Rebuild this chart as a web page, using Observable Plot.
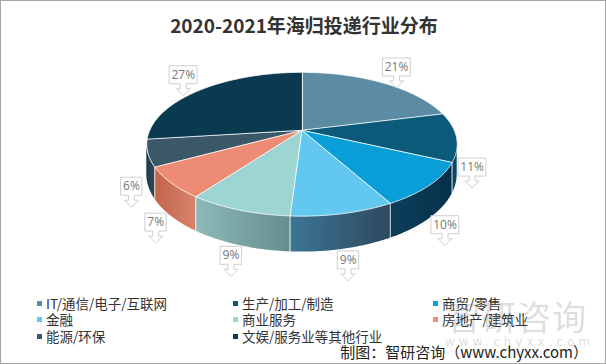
<!DOCTYPE html>
<html>
<head>
<meta charset="utf-8">
<script src="https://cdn.jsdelivr.net/npm/d3@7"></script>
<script src="https://cdn.jsdelivr.net/npm/@observablehq/plot@0.6"></script>
<style>
  html, body { margin: 0; padding: 0; background: #fff; }
  #wrap { position: relative; width: 606px; height: 364px; box-sizing: border-box; border: 1px solid #a6a6a6; overflow: hidden; font-family: "Noto Sans CJK SC", "Noto Sans", sans-serif; }
  #title { position: absolute; left: 0; top: 9px; width: 606px; text-align: center; font-size: 19px; font-weight: bold; color: #333; line-height: 30px; }
  #chart { position: absolute; left: -1px; top: -1px; }
  .leg { position: absolute; font-size: 13.5px; color: #333; line-height: 16px; white-space: nowrap; }
  .leg i { display: inline-block; width: 5px; height: 5px; margin-right: 4px; vertical-align: middle; position: relative; top: -2px; }
  #wm1 { position: absolute; left: 446px; top: 290px; font-size: 34px; color: rgba(150,150,150,0.33); letter-spacing: 1px; }
  #wm2 { position: absolute; left: 444px; top: 334px; font-size: 12px; color: rgba(150,150,150,0.33); letter-spacing: 4px; font-family: "DejaVu Sans", sans-serif; }
  #cap { position: absolute; right: 17px; top: 340px; font-size: 15px; color: #222; }
</style>
</head>
<body>
<div id="wrap">
  <div id="chart"></div>
  <div id="title">2020-2021年海归投递行业分布</div>
  <div id="wm1">智研咨询</div>
  <div id="wm2">www.chyxx.com</div>
  <div id="legend"></div>
  <div id="cap">制图：智研咨询（www.chyxx.com）</div>
</div>
<script>
// ---- data ----
const categories = ["IT/通信/电子/互联网", "生产/加工/制造", "商贸/零售", "金融", "商业服务", "房地产/建筑业", "能源/环保", "文娱/服务业等其他行业"];
const values = [21, 11, 10, 9, 9, 7, 6, 27];
const valueLabels = ["21%", "11%", "10%", "9%", "9%", "7%", "6%", "27%"];

// ---- styles ----
const topColors = ["#5b8ca4", "#0b5a7a", "#0a9ed8", "#62c8f0", "#9dd5d3", "#ee8b74", "#3c5767", "#0a3a50"];
const wallColors = [["#3f6a80", "#3f6a80"], ["#08405a", "#0a4a66"], ["#0c3f5b", "#06304a"], ["#3d7595", "#2c4a5e"], ["#8dbaba", "#678d8d"], ["#c2644c", "#d8836b"], ["#1d3a4b", "#2e4a5b"], ["#072a3a", "#072a3a"]];

// ---- geometry (perspective-tilted disk) ----
const W = 606, Hh = 364;
const cx = 302, cy = 130, rx = 152.5, ry = 69.3, f = 0.1944, thick = 29;
function proj(theta, k = 1, zpx = 0) {
  const u = k * Math.sin(theta), v = -k * Math.cos(theta);
  const s = 1 / (1 - f * v);
  return [u * s, (v + zpx / ry) * s, s];
}
const total = d3.sum(values);
let acc = 0;
const slices = values.map((v, i) => {
  const a0 = acc / total * 2 * Math.PI; acc += v;
  const a1 = acc / total * 2 * Math.PI;
  return {i, cat: categories[i], a0, a1, label: valueLabels[i]};
});
const step = Math.PI / 360;
function arcThetas(a0, a1) {
  const n = Math.max(2, Math.ceil((a1 - a0) / step));
  return d3.range(n + 1).map(j => a0 + (a1 - a0) * j / n);
}
// top faces
const topPts = [];
slices.forEach(sl => {
  topPts.push({cat: sl.cat, x: 0, y: 0});
  arcThetas(sl.a0, sl.a1).forEach(t => { const [x, y] = proj(t); topPts.push({cat: sl.cat, x, y}); });
});
// walls (front-facing part only)
const T0 = Math.acos(-f), T1 = 2 * Math.PI - Math.acos(-f);
const wallMarks = [];
const wallEdges = [];
slices.forEach(sl => {
  const lo = Math.max(sl.a0, T0), hi = Math.min(sl.a1, T1);
  if (lo < hi) {
    const pts = arcThetas(lo, hi).map(t => { const [x, y] = proj(t); const [, yb] = proj(t, 1, thick); return {x, yt: y, yb}; });
    wallMarks.push(Plot.areaY(pts, {x: "x", y1: "yt", y2: "yb", fill: `url(#wall${sl.i})`, stroke: null}));
  }
  if (sl.a0 > T0 && sl.a0 < T1) { const [x, y] = proj(sl.a0); const [, yb] = proj(sl.a0, 1, thick); wallEdges.push({x, y1: y, y2: yb}); }
});
// callout labels
const calloutPts = [];
const labelPts = [];
slices.forEach(sl => {
  const mid = (sl.a0 + sl.a1) / 2;
  const front = -Math.cos(mid) >= 0;
  const [px, py] = proj(mid, front ? 1.1 : 1.2);
  const [, , srim] = proj(mid);
  const lxp = px * rx;
  const lyp = py * ry + (front ? thick * srim : -8);
  const w = sl.label.length * 6.5 + 8, h = 18;
  const L = lxp - w / 2, R = lxp + w / 2, T = lyp - h / 2, B = lyp + h / 2;
  const shape = [[L, T], [R, T], [R, B], [lxp + 3, B], [lxp + 3, B + 5], [lxp + 7, B + 5], [lxp, B + 12], [lxp - 7, B + 5], [lxp - 3, B + 5], [lxp - 3, B], [L, B]];
  shape.forEach(([a, b]) => calloutPts.push({id: sl.i, x: a / rx, y: b / ry}));
  labelPts.push({x: lxp / rx, y: lyp / ry, text: sl.label});
});

const plot = Plot.plot({
  width: W, height: Hh, margin: 0,
  x: {domain: [-cx / rx, (W - cx) / rx], range: [0, W], axis: null},
  y: {domain: [-cy / ry, (Hh - cy) / ry], range: [0, Hh], axis: null},
  color: {domain: categories, range: topColors},
  style: {background: "transparent", overflow: "visible"},
  marks: [
    ...wallMarks,
    Plot.link(wallEdges, {x1: "x", x2: "x", y1: "y1", y2: "y2", stroke: "#ffffff", strokeOpacity: 0.75, strokeWidth: 1}),
    Plot.line(topPts, {x: "x", y: "y", z: "cat", fill: "cat", stroke: "#ffffff", strokeWidth: 1, strokeOpacity: 0.8, curve: "linear-closed"}),
    Plot.line(calloutPts, {x: "x", y: "y", z: "id", fill: "#ffffff", stroke: "#cfcfcf", strokeWidth: 1, curve: "linear-closed"}),
    Plot.text(labelPts, {x: "x", y: "y", text: "text", fill: "#777777", fontSize: 12, fontFamily: "Open Sans, Noto Sans, sans-serif"})
  ]
});
const defs = d3.select(plot).insert("defs", ":first-child");
wallColors.forEach((c, i) => {
  const g = defs.append("linearGradient").attr("id", "wall" + i).attr("x1", 0).attr("x2", 1).attr("y1", 0).attr("y2", 0);
  g.append("stop").attr("offset", "0%").attr("stop-color", c[0]);
  g.append("stop").attr("offset", "100%").attr("stop-color", c[1]);
});
document.getElementById("chart").appendChild(plot);

// legend
const legCols = [36, 232, 432], legRows = [294, 310, 327];
const legend = document.getElementById("legend");
categories.forEach((c, i) => {
  const d = document.createElement("div");
  d.className = "leg";
  d.style.left = legCols[i % 3] + "px";
  d.style.top = legRows[Math.floor(i / 3)] + "px";
  d.innerHTML = `<i style="background:${topColors[i]}"></i>${c}`;
  legend.appendChild(d);
});
</script>
</body>
</html>
